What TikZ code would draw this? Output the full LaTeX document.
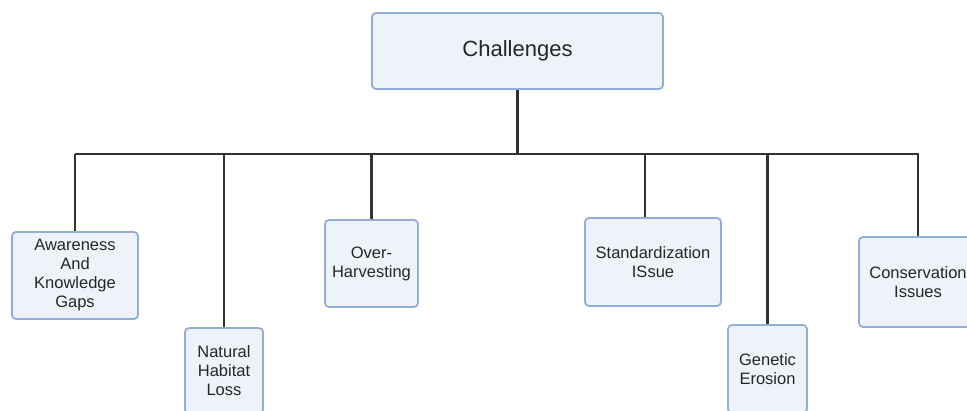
\documentclass[tikz,border=0pt]{standalone}
\usepackage{fontspec}
\setmainfont{Liberation Sans}
\definecolor{boxfill}{HTML}{EEF3FA}
\definecolor{boxline}{HTML}{93ADDB}
\definecolor{conn}{HTML}{333333}
\definecolor{txt}{HTML}{262626}
\begin{document}
\begin{tikzpicture}[x=1pt,y=-1pt,
  box/.style={draw=boxline, line width=1.8pt, fill=boxfill, rounded corners=4pt,
    align=center, inner sep=1pt, text=txt, font=\fontsize{16.5}{19}\selectfont},
  link/.style={draw=conn, line width=2.5pt}]
\useasboundingbox (0,0) rectangle (967,411);
\clip (0,0) rectangle (967,411);
\node[box, minimum width=291pt, minimum height=76pt, font=\fontsize{22}{26}\selectfont] (top) at (517.5,51) {Challenges};
\node[box, minimum width=126pt, minimum height=87pt] (aw) at (75,275.5) {Awareness\\And\\Knowledge\\Gaps};
\node[box, minimum width=78pt, minimum height=86pt] (nh) at (224,371) {Natural\\Habitat\\Loss};
\node[box, minimum width=93pt, minimum height=87pt] (oh) at (371.5,263.5) {Over-\\Harvesting};
\node[box, minimum width=136pt, minimum height=88pt] (st) at (653,262) {Standardization\\ISsue};
\node[box, minimum width=79pt, minimum height=88pt] (ge) at (767.5,369) {Genetic\\Erosion};
\node[box, minimum width=118pt, minimum height=90pt] (co) at (918,282) {Conservation\\Issues};
\coordinate (bus) at (517.5,154);
\coordinate (busL) at (76,154);
\coordinate (busR) at (918,154);
\draw[link] (top.south) -- (bus);
\draw[link, line cap=rect] (busL) -- (busR);
\draw[link] (aw.north) -- (aw.north |- bus);
\draw[link] (nh.north) -- (nh.north |- bus);
\draw[link] (oh.north) -- (oh.north |- bus);
\draw[link] ([xshift=-8pt]st.north) -- ([xshift=-8pt]st.north |- bus);
\draw[link] (ge.north) -- (ge.north |- bus);
\draw[link] (co.north) -- (co.north |- bus);
\end{tikzpicture}
\end{document}
